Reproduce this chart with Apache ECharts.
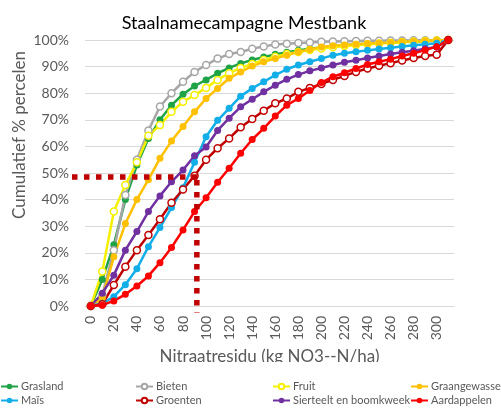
<!DOCTYPE html>
<html><head><meta charset="utf-8">
<script src="https://cdn.jsdelivr.net/npm/echarts@6/dist/echarts.min.js"></script>
<style>html,body{margin:0;padding:0;background:#fff}#c{width:501px;height:410px}</style>
</head><body><div id="c"></div>
<script>
const xValues = [0,10,20,30,40,50,60,70,80,90,100,110,120,130,140,150,160,170,180,190,200,210,220,230,240,250,260,270,280,290,300,310];
const xTickLabels = [0,20,40,60,80,100,120,140,160,180,200,220,240,260,280,300];

const grasland      = [0,10,23,40,53,63,70,75.5,79.6,82.7,85,87.5,89.5,91.2,92.5,93.6,94.6,95.4,96.1,96.7,97.2,97.6,98,98.3,98.6,98.9,99.1,99.3,99.5,99.6,99.8,100];
const bieten        = [0,4,21,41.7,55,66,75,80,84.3,88,90.6,93,94.7,95.5,96.7,97.6,98.3,98.6,98.9,99.1,99.3,99.4,99.5,99.6,99.7,99.7,99.8,99.8,99.9,99.9,99.9,100];
const fruit         = [0,13,35.5,45.5,54,64,68,73,76.8,79.3,82,85,87.5,89.5,91,92.5,93.7,94.7,95.5,96.2,96.8,97.3,97.7,98.1,98.4,98.7,99,99.2,99.4,99.6,99.8,100];
const graangewassen = [0,3,18.5,31,40,47.5,55.5,62,67.5,73,78,81.8,85.6,88,90.2,91.8,93,94.3,95.5,96.4,97.4,97.8,98.1,98.4,98.7,98.9,99.1,99.3,99.5,99.6,99.8,100];
const mais          = [0,1,3.5,8,14,22.3,29.5,37,44.5,54,63.6,69.8,74.3,78.9,81.8,84.3,86.8,89,90.6,91.8,93,94.3,95,95.6,96.1,96.6,97.1,97.6,98,98.4,98.8,100];
const groenten      = [0,0.7,7.9,14.8,21,26.7,32.6,38.8,43.8,49,55,59.3,63,67.2,70.3,73.4,76.2,78,80.5,82,83.5,85,86.5,88,89.3,90.3,91.3,92.3,93.2,94,94.5,100];
const sierteelt     = [0,4.8,11.6,21,28,35.5,41.4,46.7,51.1,56.5,59.8,66,70.6,74.9,77.7,80.5,83,85.2,87,88.4,89.5,90.6,91.6,92.4,93.2,94,94.7,95.4,96,96.7,97.4,100];
const aardappelen   = [0,0.3,1.9,4.4,7.5,11.3,16.3,22,28.6,35.5,40.7,46.5,51.8,57.4,62.6,66.8,71.4,75.5,78,81,84,86.2,87.7,89.3,90.8,91.8,92.8,94,95,96.2,97.5,100];

// reference annotation (median marker) in data units
const refX = 92, refY = 48.5, refXStart = -16.3, refYEnd = -2.4;

const seriesDefs = [
  {name:'Grasland', data:grasland, color:'#1fa347', hollow:false},
  {name:'Bieten', data:bieten, color:'#a6a6a6', hollow:true},
  {name:'Fruit', data:fruit, color:'#f5f000', hollow:true},
  {name:'Graangewassen', data:graangewassen, color:'#ffc000', hollow:false},
  {name:'Maïs', data:mais, color:'#12aee8', hollow:false},
  {name:'Groenten', data:groenten, color:'#c00000', hollow:true},
  {name:'Sierteelt en boomkweek', data:sierteelt, color:'#7030a0', hollow:false},
  {name:'Aardappelen', data:aardappelen, color:'#ff0000', hollow:false}
];

const FONT = 'Lato, "Liberation Sans", sans-serif';
const chart = echarts.init(document.getElementById('c'), null, {renderer:'canvas'});

const series = seriesDefs.map(s => ({
  name: s.name,
  type: 'line',
  data: s.data.map((v,i) => [xValues[i], v]),
  symbol: 'circle',
  symbolSize: 7,
  showSymbol: true,
  clip: false,
  lineStyle: {color: s.color, width: 2.5},
  itemStyle: s.hollow ? {color:'#ffffff', borderColor:s.color, borderWidth:1.5} : {color:s.color, borderColor:s.color, borderWidth:0},
  emphasis: {disabled:true},
  animation: false
}));

const legendItems = [
  {name:'Grasland', left:0, top:381},
  {name:'Maïs', left:0, top:395},
  {name:'Bieten', left:135, top:381},
  {name:'Groenten', left:135, top:395},
  {name:'Fruit', left:272, top:381},
  {name:'Sierteelt en boomkweek', left:272, top:395},
  {name:'Graangewassen', left:410, top:381},
  {name:'Aardappelen', left:410, top:395}
];

chart.setOption({
  animation: false,
  backgroundColor: '#ffffff',
  title: {
    text: 'Staalnamecampagne Mestbank',
    left: 239, top: 9, textAlign: 'center',
    textStyle: {fontFamily: FONT, fontSize: 18, fontWeight: 'normal', color: '#000000'}
  },
  grid: {left: 85, right: 47, top: 40, bottom: 104, containLabel: false},
  xAxis: {
    type: 'value', min: -5, max: 315,
    name: 'Nitraatresidu (kg NO3--N/ha)', nameLocation: 'middle', nameGap: 42,
    nameTextStyle: {fontFamily: FONT, fontSize: 17, color: '#595959'},
    axisLine: {show: true, lineStyle: {color: '#d9d9d9'}},
    axisTick: {show: false},
    splitLine: {show: false},
    axisLabel: {
      customValues: xTickLabels, rotate: 90, margin: 10,
      fontFamily: FONT, fontSize: 14, color: '#595959'
    }
  },
  yAxis: {
    type: 'value', min: 0, max: 100, interval: 10,
    axisLine: {show: false}, axisTick: {show: false},
    splitLine: {show: true, lineStyle: {color: '#d9d9d9', width: 1}},
    axisLabel: {formatter: '{value}%', margin: 16, fontFamily: FONT, fontSize: 14, color: '#595959'}
  },
  legend: legendItems.map(c => ({
    orient: 'horizontal', left: c.left, top: c.top, padding: 0,
    itemWidth: 17, itemHeight: 7,
    selectedMode: false,
    data: [c.name],
    textStyle: {fontFamily: FONT, fontSize: 11, color: '#595959', padding: [0,0,0,-2]}
  })),
  series: series
});

function placeAnnotations(){
  const pStart = chart.convertToPixel({xAxisIndex:0, yAxisIndex:0}, [refXStart, refY]);
  const pCorner = chart.convertToPixel({xAxisIndex:0, yAxisIndex:0}, [refX, refY]);
  const pEnd = chart.convertToPixel({xAxisIndex:0, yAxisIndex:0}, [refX, refYEnd]);
  const dashStyle = {stroke:'#c00000', lineWidth:5.5, lineDash:[5.5,6.5], fill:null};
  chart.setOption({
    graphic: [
      {type:'line', shape:{x1:pStart[0], y1:pStart[1], x2:pCorner[0]+2, y2:pCorner[1]}, style:dashStyle, z:100},
      {type:'line', shape:{x1:pCorner[0], y1:pCorner[1]+3, x2:pEnd[0], y2:pEnd[1]}, style:dashStyle, z:100},
      {type:'rect', shape:{x:130, y:362, width:280, height:18}, style:{fill:'#ffffff'}, z:100},
      {type:'text', x:20, y:135, rotation:Math.PI/2,
       style:{text:'Cumulatief % percelen', fontFamily:FONT, fontSize:17, fill:'#595959', align:'center', verticalAlign:'middle'}}
    ]
  });
}
placeAnnotations();
</script>
</body></html>
